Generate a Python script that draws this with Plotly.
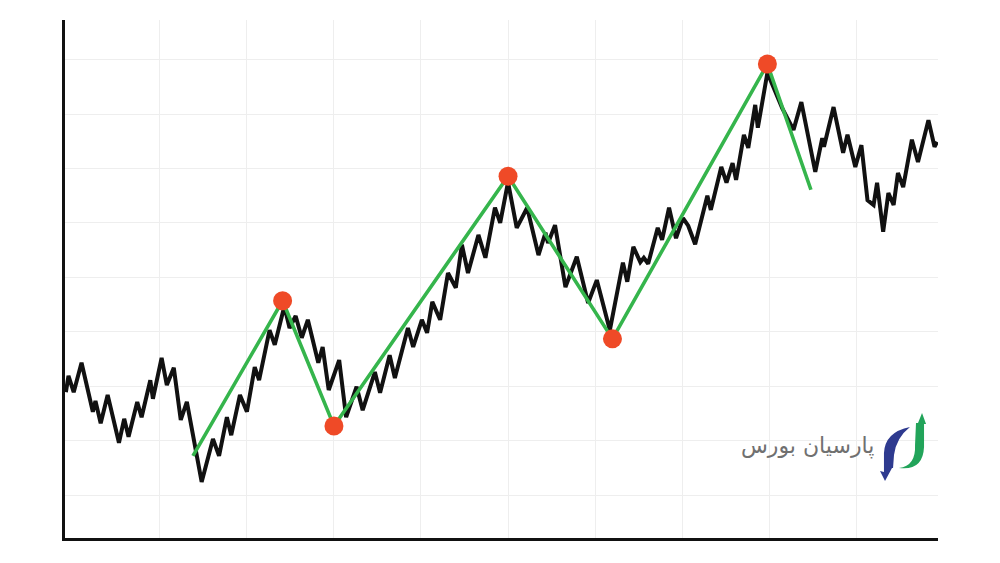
import plotly.graph_objects as go

# Price path (time index, price)
price_t = [-0.8, -0.5, 0.1, 1.0, 2.3, 2.6, 3.2, 4.0, 5.3, 5.9, 6.4, 7.4, 7.9, 8.9, 9.2, 10.2, 10.8, 11.6, 12.4, 13.1,
           14.8, 16.1, 16.8, 17.7, 18.2, 19.2, 20.0, 20.9, 21.4, 22.6, 23.2, 24.3, 24.9, 25.6, 26.3, 27.0, 28.2, 28.7,
           29.4, 30.6, 31.4, 32.6, 33.3, 34.7, 35.3, 36.4, 37.0, 38.5, 39.1, 40.1, 40.7, 41.3, 42.2, 43.1, 44.0, 44.7,
           45.4, 46.6, 47.4, 48.5, 49.1, 50.0, 51.0, 52.2, 53.5, 54.3, 54.6, 55.4, 56.6, 57.9, 59.2, 60.2, 61.7, 63.2,
           63.7, 64.4, 65.2, 65.6, 66.1, 67.2, 67.7, 68.5, 69.3, 70.1, 70.7, 71.5, 72.9, 73.3, 74.5, 75.1, 75.8, 76.2,
           77.1, 77.6, 78.4, 78.7, 79.8, 81.5, 82.8, 83.7, 85.3, 86.1, 86.3, 87.4, 88.5, 89.0, 89.9, 90.6, 91.3, 92.0,
           92.4, 93.1, 93.7, 94.3, 94.8, 95.4, 96.4, 97.1, 98.3, 99.0, 99.3]
price_v = [28.9, 31.9, 28.9, 34.3, 25.3, 27.3, 23.2, 28.4, 19.6, 24.0, 20.7, 27.1, 24.3, 31.1, 27.7, 35.2, 30.2, 33.4, 23.8, 27.1,
           12.4, 20.3, 17.2, 24.3, 21.0, 28.4, 25.3, 33.5, 31.1, 40.3, 37.6, 44.7, 40.7, 42.9, 38.9, 42.2, 34.3, 37.2,
           29.3, 34.8, 24.3, 29.9, 25.6, 32.6, 28.8, 35.7, 31.5, 40.7, 37.2, 42.2, 39.8, 45.5, 42.2, 50.8, 48.1, 56.0,
           50.8, 57.8, 53.6, 62.8, 60.0, 67.5, 59.1, 62.8, 54.1, 58.2, 56.3, 59.6, 48.2, 53.8, 45.3, 49.5, 40.3, 52.7,
           49.2, 55.6, 52.8, 53.6, 52.5, 59.1, 56.9, 62.8, 57.2, 60.9, 59.5, 56.1, 65.0, 62.4, 70.3, 67.4, 71.0, 67.9,
           76.2, 73.8, 81.7, 77.5, 87.6, 81.1, 77.1, 82.2, 69.4, 75.6, 74.0, 81.3, 72.9, 76.2, 70.3, 74.3, 64.2, 63.3,
           67.4, 58.4, 65.5, 63.3, 69.2, 66.6, 75.3, 71.2, 78.9, 74.0, 74.9]

# Zigzag swing line
zig_t = [13.8, 24.1, 30.0, 50.0, 62.0, 79.8, 84.8]
zig_v = [17.2, 45.7, 22.7, 68.6, 38.7, 89.2, 66.1]

# Swing pivots
pivot_t = [24.1, 30.0, 50.0, 62.0, 79.8]
pivot_v = [45.7, 22.7, 68.6, 38.7, 89.2]

# Grid positions
grid_t = [10, 20, 30, 40, 50, 60, 70, 80, 90]
grid_v = [10, 20, 30, 40, 50, 60, 70, 80, 90]

brand_text = "پارسیان بورس"

fig = go.Figure()
fig.add_trace(go.Scatter(x=price_t, y=price_v, mode="lines",
                         line=dict(color="#111111", width=4), hoverinfo="skip"))
fig.add_trace(go.Scatter(x=zig_t, y=zig_v, mode="lines",
                         line=dict(color="#35b54c", width=3.6), hoverinfo="skip"))
fig.add_trace(go.Scatter(x=pivot_t, y=pivot_v, mode="markers",
                         marker=dict(color="#ef4a27", size=19, line=dict(width=0)), hoverinfo="skip"))

# plot area on the page in pixels: x 65..938, y 20..538 (page body has 8px margin)
OFF = 8
L, R, T, B = 65, 938, 20, 538


def px(x, y):
    return (x - L) / (R - L), (B - y) / (B - T)


def path(pts):
    s = ""
    for cmd, *coords in pts:
        s += cmd
        parts = []
        for i in range(0, len(coords), 2):
            a, b = px(coords[i], coords[i + 1])
            parts.append(f"{a:.4f},{b:.4f}")
        s += " ".join(parts) + " "
    return s + "Z"


blue = path([("M", 910, 427), ("Q", 885, 432, 884, 453), ("L", 884, 472), ("L", 880, 471),
             ("L", 885, 481), ("L", 892, 468), ("L", 893, 468), ("L", 894, 455),
             ("Q", 896, 438, 910, 427)])
green = path([("M", 899, 468), ("Q", 916, 466, 915, 445), ("L", 916, 423), ("L", 918, 423),
              ("L", 922, 413), ("L", 926, 424), ("L", 924, 424), ("L", 924, 447),
              ("Q", 923, 471, 899, 468)])

fig.add_shape(type="path", path=blue, xref="paper", yref="paper",
              fillcolor="#2e3a8f", line=dict(width=0))
fig.add_shape(type="path", path=green, xref="paper", yref="paper",
              fillcolor="#22a45a", line=dict(width=0))

tx, ty = px(876, 461)
fig.add_annotation(x=tx, y=ty, xref="paper", yref="paper", text=brand_text, showarrow=False,
                   font=dict(family="DejaVu Sans", size=22, color="#707070"))

fig.update_layout(
    width=1000, height=563,
    margin=dict(l=L - OFF, r=1000 - (R - OFF), t=T - OFF, b=563 - (B - OFF)),
    paper_bgcolor="white", plot_bgcolor="white",
    showlegend=False,
    xaxis=dict(range=[-0.9, 99.4], tickmode="array", tickvals=grid_t, showgrid=True,
               gridcolor="#eeeeee", gridwidth=1,
               zeroline=False, showticklabels=False, ticks="",
               showline=True, linecolor="#111111", linewidth=2.5),
    yaxis=dict(range=[2.1, 97.3], tickmode="array", tickvals=grid_v, showgrid=True,
               gridcolor="#eeeeee", gridwidth=1,
               zeroline=False, showticklabels=False, ticks="",
               showline=True, linecolor="#111111", linewidth=2.5),
)

fig.write_html("out.html")
